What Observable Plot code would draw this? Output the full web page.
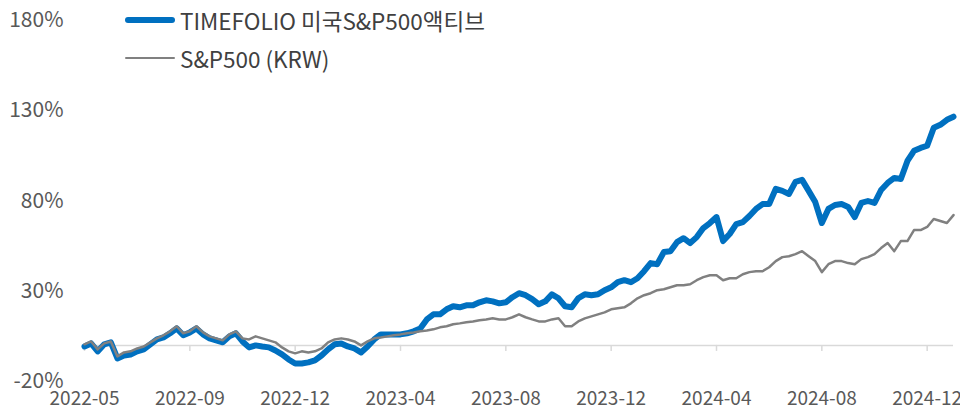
<!DOCTYPE html>
<html>
<head>
<meta charset="utf-8">
<script src="https://cdn.jsdelivr.net/npm/d3@7"></script>
<script src="https://cdn.jsdelivr.net/npm/@observablehq/plot@0.6"></script>
<style>
  html, body { margin: 0; padding: 0; background: #fff; }
  body { font-family: "Noto Sans CJK KR", "Noto Sans", sans-serif; }
  #wrap { position: relative; width: 960px; height: 410px; overflow: hidden; }
  #legend { position: absolute; left: 0; top: 0; color: #404040; font-size: 22.5px; }
  .row { position: absolute; left: 125px; display: flex; align-items: center; height: 30px; line-height: 30px; white-space: nowrap; }
  .sw { width: 50px; margin-right: 5px; border-radius: 3px; flex: none; }
</style>
</head>
<body>
<div id="wrap"><div id="legend"></div></div>
<script>
// Series names
const seriesNames = ["TIMEFOLIO 미국S&P500액티브", "S&P500 (KRW)"];

// X tick labels (category axis, one label every 16 points)
const tickLabels = ["2022-05", "2022-09", "2022-12", "2023-04", "2023-08", "2023-12", "2024-04", "2024-08", "2024-12"];
const tickStep = 16;

// Y ticks (%)
const yTicks = [-20, 30, 80, 130, 180];

// Cumulative return (%), TIMEFOLIO 미국S&P500액티브
const activeETF = [
  -0.6, 1.1, -3.3, 0.6, 1.7, -7.2, -5.6, -5.0, -3.3, -2.2,
  0.6, 3.3, 4.4, 6.7, 9.4, 5.6, 7.2, 9.4, 6.1, 3.9,
  2.8, 1.7, 5.0, 6.7, 2.2, -1.1, 0.0, -0.6, -1.1, -2.8,
  -5.0, -7.8, -10.0, -10.0, -9.4, -8.3, -5.6, -2.2, 0.6, 1.1,
  -0.6, -1.7, -3.9, -0.6, 3.3, 6.1, 6.1, 6.1, 6.1, 6.7,
  7.8, 9.4, 14.4, 17.2, 17.2, 20.0, 21.7, 21.1, 22.2, 22.2,
  23.9, 25.0, 24.4, 23.3, 23.9, 26.7, 28.9, 27.8, 25.6, 22.8,
  24.4, 28.3, 26.1, 21.7, 21.1, 26.1, 28.3, 27.8, 28.3, 30.6,
  32.2, 35.0, 36.1, 35.0, 37.2, 41.1, 45.6, 45.0, 51.7, 52.2,
  57.2, 59.4, 56.7, 60.0, 65.0, 67.8, 71.1, 57.8, 61.7, 67.2,
  68.3, 71.7, 75.6, 78.3, 78.3, 86.7, 85.6, 83.9, 90.6, 91.7,
  85.6, 79.4, 67.8, 75.6, 77.8, 78.3, 76.7, 71.1, 78.9, 80.0,
  78.9, 86.1, 90.0, 92.8, 92.2, 102.2, 107.8, 109.4, 110.6, 120.6,
  122.2, 125.0, 126.7
];

// Cumulative return (%), S&P500 (KRW)
const sp500KRW = [
  0.6, 2.2, -2.2, 1.1, 2.2, -6.1, -3.9, -3.3, -1.7, -0.6,
  1.7, 3.9, 5.6, 7.8, 10.6, 6.7, 7.8, 10.6, 7.2, 5.0,
  3.9, 2.8, 6.1, 7.8, 3.9, 3.3, 5.0, 3.9, 2.8, 1.7,
  -1.1, -3.3, -4.4, -3.3, -3.9, -3.3, -1.7, 1.7, 3.3, 3.9,
  3.3, 2.2, 0.0, 2.2, 3.9, 4.4, 5.0, 5.6, 6.1, 6.7,
  7.2, 7.8, 8.3, 8.9, 10.0, 10.6, 11.7, 12.2, 12.8, 13.3,
  13.9, 14.4, 15.0, 14.4, 14.4, 15.6, 17.2, 15.6, 14.4, 13.3,
  13.3, 14.4, 15.0, 10.6, 10.6, 13.3, 15.0, 16.1, 17.2, 18.3,
  20.0, 20.6, 21.1, 23.3, 26.1, 27.8, 28.9, 30.6, 31.1, 32.2,
  33.3, 33.3, 33.9, 36.1, 37.8, 38.9, 38.9, 36.1, 37.2, 37.2,
  39.4, 40.6, 41.1, 41.1, 43.3, 46.7, 48.9, 49.4, 50.6, 52.2,
  49.4, 46.7, 40.6, 45.0, 46.7, 46.7, 45.6, 45.0, 47.8, 48.9,
  50.6, 53.9, 56.7, 52.2, 57.8, 57.8, 63.9, 63.9, 65.6, 70.0,
  68.9, 67.8, 72.2
];

const colors = ["#0070C0", "#808080"];
const widths = [6, 2.5];

const rowsA = activeETF.map((v, i) => ({i, v}));
const rowsB = sp500KRW.map((v, i) => ({i, v}));
const tickIdx = tickLabels.map((_, k) => k * tickStep);
const lastIdx = activeETF.length - 1;

const chart = Plot.plot({
  width: 960,
  height: 410,
  marginLeft: 84,
  marginRight: 7,
  marginTop: 20,
  marginBottom: 29,
  style: { fontFamily: '"Noto Sans CJK KR", "Noto Sans", sans-serif', background: "#fff", color: "#595959", overflow: "visible" },
  x: { domain: [0, lastIdx], axis: null, label: null },
  y: { domain: [-20, 180], axis: null, label: null },
  marks: [
    Plot.ruleY([0], { stroke: "#d9d9d9", strokeWidth: 1.5 }),
    Plot.ruleX(tickIdx, { x: d => d, y1: 0, y2: 0, insetBottom: -6, stroke: "#d9d9d9", strokeWidth: 1.5 }),
    Plot.axisX(tickIdx, {
      anchor: "bottom", tickSize: 0, tickPadding: 10, label: null,
      tickFormat: (d) => tickLabels[d / tickStep],
      fontSize: 19, fill: "#595959"
    }),
    Plot.axisY(yTicks, {
      anchor: "left", tickSize: 0, tickPadding: 21, label: null,
      tickFormat: d => d + "%",
      fontSize: 21, fill: "#595959"
    }),
    Plot.line(rowsA, { x: "i", y: "v", stroke: colors[0], strokeWidth: widths[0], strokeLinejoin: "round", strokeLinecap: "round" }),
    Plot.line(rowsB, { x: "i", y: "v", stroke: colors[1], strokeWidth: widths[1], strokeLinejoin: "round", strokeLinecap: "round" })
  ]
});

const wrap = document.getElementById("wrap");
wrap.insertBefore(chart, wrap.firstChild);

const legend = document.getElementById("legend");
const rowCenters = [20, 58];
seriesNames.forEach((name, k) => {
  const row = document.createElement("div");
  row.className = "row";
  row.style.top = (rowCenters[k] - 15) + "px";
  const sw = document.createElement("div");
  sw.className = "sw";
  sw.style.height = widths[k] + "px";
  sw.style.background = colors[k];
  const t = document.createElement("span");
  t.textContent = name;
  row.appendChild(sw);
  row.appendChild(t);
  legend.appendChild(row);
});
</script>
</body>
</html>
